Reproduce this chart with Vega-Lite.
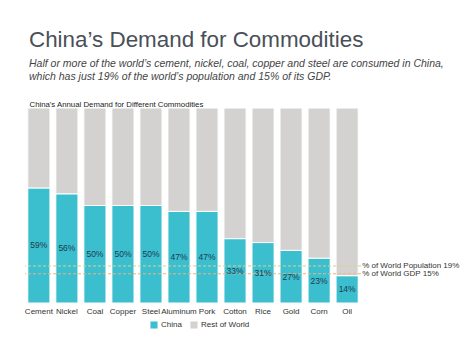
{
  "$schema": "https://vega.github.io/schema/vega-lite/v6.json",
  "autosize": {"type": "none"},
  "width": 336,
  "height": 195,
  "padding": {"left": 25, "top": 108, "right": 113, "bottom": 52},
  "background": "white",
  "config": {"font": "Liberation Sans", "view": {"stroke": null}},
  "title": {
    "text": "China’s Demand for Commodities",
    "subtitle": ["Half or more of the world’s cement, nickel, coal, copper and steel are consumed in China,", "which has just 19% of the world’s population and 15% of its GDP."],
    "anchor": "start",
    "frame": "group",
    "dx": 4,
    "offset": 18,
    "fontSize": 22.4,
    "fontWeight": "normal",
    "color": "#4A5058",
    "subtitleFontSize": 10.5,
    "subtitleFontStyle": "italic",
    "subtitleColor": "#444444",
    "subtitlePadding": 7,
    "subtitleLineHeight": 13
  },
  "datasets": {
    "demand": [
      {"commodity": "Cement", "region": "China", "value": 59},
      {"commodity": "Cement", "region": "Rest of World", "value": 41},
      {"commodity": "Nickel", "region": "China", "value": 56},
      {"commodity": "Nickel", "region": "Rest of World", "value": 44},
      {"commodity": "Coal", "region": "China", "value": 50},
      {"commodity": "Coal", "region": "Rest of World", "value": 50},
      {"commodity": "Copper", "region": "China", "value": 50},
      {"commodity": "Copper", "region": "Rest of World", "value": 50},
      {"commodity": "Steel", "region": "China", "value": 50},
      {"commodity": "Steel", "region": "Rest of World", "value": 50},
      {"commodity": "Aluminum", "region": "China", "value": 47},
      {"commodity": "Aluminum", "region": "Rest of World", "value": 53},
      {"commodity": "Pork", "region": "China", "value": 47},
      {"commodity": "Pork", "region": "Rest of World", "value": 53},
      {"commodity": "Cotton", "region": "China", "value": 33},
      {"commodity": "Cotton", "region": "Rest of World", "value": 67},
      {"commodity": "Rice", "region": "China", "value": 31},
      {"commodity": "Rice", "region": "Rest of World", "value": 69},
      {"commodity": "Gold", "region": "China", "value": 27},
      {"commodity": "Gold", "region": "Rest of World", "value": 73},
      {"commodity": "Corn", "region": "China", "value": 23},
      {"commodity": "Corn", "region": "Rest of World", "value": 77},
      {"commodity": "Oil", "region": "China", "value": 14},
      {"commodity": "Oil", "region": "Rest of World", "value": 86}
    ],
    "refs": [
      {"ref": "pop", "label": "% of World Population 19%", "v": 19},
      {"ref": "gdp", "label": "% of World GDP 15%", "v": 15}
    ]
  },
  "layer": [
    {
      "data": {"name": "demand"},
      "transform": [{"calculate": "datum.region == 'China' ? 0 : 1", "as": "ord"}],
      "mark": {"type": "bar", "stroke": "white", "strokeWidth": 1},
      "encoding": {
        "x": {
          "field": "commodity", "type": "nominal", "sort": null,
          "scale": {"paddingInner": 0.21, "paddingOuter": 0.1},
          "axis": {"title": null, "labelAngle": 0, "ticks": false, "domain": false, "labelFontSize": 8, "labelColor": "#333333", "labelPadding": 4}
        },
        "y": {"field": "value", "type": "quantitative", "stack": "zero", "scale": {"domain": [0, 100]}, "axis": null},
        "color": {
          "field": "region", "type": "nominal",
          "scale": {"domain": ["China", "Rest of World"], "range": ["#3BBFCF", "#D3D2D0"]},
          "legend": {"orient": "none", "legendX": 125, "legendY": 213, "direction": "horizontal", "title": null, "symbolType": "square", "symbolSize": 50, "labelFontSize": 8, "labelColor": "#333333", "symbolStrokeWidth": 0, "columnPadding": 8, "labelOffset": 3}
        },
        "order": {"field": "ord", "type": "quantitative"}
      }
    },
    {
      "data": {"name": "refs"},
      "transform": [{"filter": "datum.ref == 'pop'"}],
      "mark": {"type": "rule", "stroke": "#D9CF8C", "strokeWidth": 1, "strokeDash": [3, 2]},
      "encoding": {"y": {"field": "v", "type": "quantitative"}}
    },
    {
      "data": {"name": "refs"},
      "transform": [{"filter": "datum.ref == 'gdp'"}],
      "mark": {"type": "rule", "stroke": "#EDB27F", "strokeWidth": 1, "strokeDash": [3, 2]},
      "encoding": {"y": {"field": "v", "type": "quantitative"}}
    },
    {
      "data": {"name": "demand"},
      "transform": [
        {"filter": "datum.region == 'China'"},
        {"calculate": "datum.value / 2", "as": "mid"},
        {"calculate": "datum.value + '%'", "as": "pct"}
      ],
      "mark": {"type": "text", "fontSize": 8.5, "color": "#1F3B4D"},
      "encoding": {
        "x": {"field": "commodity", "type": "nominal", "sort": null,
          "axis": {"orient": "top", "labels": false, "ticks": false, "domain": false, "title": "China's Annual Demand for Different Commodities", "titleAnchor": "start", "titleFontSize": 7.8, "titleFontWeight": "normal", "titleColor": "#222222", "titlePadding": 0, "titleX": 4}},
        "y": {"field": "mid", "type": "quantitative"},
        "text": {"field": "pct", "type": "nominal"}
      }
    },
    {
      "data": {"name": "refs"},
      "mark": {"type": "text", "align": "left", "fontSize": 8, "color": "#333333", "dx": 15, "dy": 0},
      "encoding": {
        "x": {"datum": "Oil", "type": "nominal", "axis": null},
        "y": {"field": "v", "type": "quantitative"},
        "text": {"field": "label", "type": "nominal"}
      }
    }
  ],
  "resolve": {"axis": {"x": "independent"}}
}
